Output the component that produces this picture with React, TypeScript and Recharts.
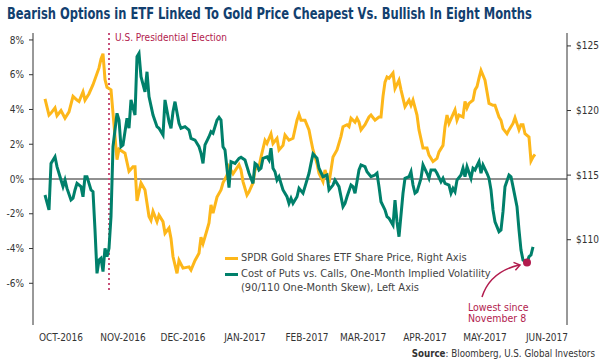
import { LineChart, Line, XAxis, YAxis, ReferenceLine, ReferenceDot, Legend } from 'recharts';

const FONT = "'Liberation Sans Narrow', 'DejaVu Sans Condensed', Roboto, sans-serif";
const GOLD = '#FDB71A';
const GREEN = '#00806B';
const RED = '#B21C4E';
const INK = '#333333';

// x values are days since 1 Oct 2016
const goldDays = [6, 8, 9, 11, 12, 14, 16, 18, 20, 22, 23, 25, 26, 28, 30, 33, 34, 35, 36, 37, 39, 40, 42, 43, 46, 48, 50, 51, 52, 54, 56, 58, 59, 60, 62, 63, 65, 66, 68, 69, 70, 72, 73, 75, 78, 79, 81, 83, 84, 85, 87, 88, 89, 90, 92, 94, 95, 97, 98, 100, 103, 104, 105, 107, 108, 110, 111, 113, 114, 116, 117, 119, 120, 122, 123, 125, 126, 128, 130, 132, 133, 134, 136, 138, 139, 140, 142, 143, 145, 146, 148, 150, 152, 154, 155, 157, 158, 159, 161, 162, 163, 164, 166, 168, 169, 171, 173, 174, 175, 176, 177, 178, 180, 181, 183, 184, 186, 188, 189, 190, 192, 193, 195, 197, 198, 200, 202, 203, 205, 206, 207, 208, 210, 211, 212, 213, 215, 216, 217, 218, 220, 221, 222, 223, 224, 226, 227, 228, 230, 231, 233, 234, 235, 237, 238, 240, 241, 243, 244, 245, 246, 248, 249, 250, 251];
const goldPrice = [120.9, 119.65, 119.8, 120.2, 119.6, 120.0, 119.4, 119.9, 121.1, 120.8, 120.7, 121.45, 120.8, 121.3, 122.0, 123.3, 124.0, 124.4, 122.4, 121.8, 121.6, 119.8, 116.2, 117.0, 116.7, 115.3, 115.65, 115.65, 113.0, 114.4, 113.85, 111.8, 111.5, 112.2, 111.4, 111.9, 111.4, 110.5, 110.9, 110.1, 108.7, 107.4, 108.4, 107.8, 107.9, 107.65, 108.4, 108.95, 110.2, 109.7, 110.75, 111.3, 112.7, 112.05, 113.3, 113.85, 114.4, 115.0, 115.65, 115.1, 115.8, 115.4, 114.5, 113.45, 113.7, 114.4, 115.4, 115.65, 116.4, 117.7, 117.45, 118.2, 117.45, 117.85, 116.95, 117.3, 118.1, 117.7, 117.85, 119.25, 119.7, 119.25, 119.25, 118.5, 117.7, 116.95, 115.9, 115.15, 114.5, 115.4, 114.4, 116.4, 116.95, 118.0, 118.75, 118.9, 118.75, 119.4, 119.1, 119.4, 119.1, 118.5, 118.9, 119.5, 119.65, 119.25, 119.5, 119.5, 121.1, 122.2, 122.6, 122.5, 122.9, 121.7, 122.35, 121.6, 120.3, 120.8, 120.4, 120.8, 119.65, 118.5, 117.1, 117.1, 116.55, 116.05, 116.3, 116.8, 117.3, 118.75, 119.65, 119.0, 119.7, 120.05, 119.25, 119.65, 119.5, 120.7, 120.2, 120.55, 120.8, 121.6, 121.85, 122.5, 123.1, 122.35, 121.45, 120.55, 120.4, 120.4, 119.5, 119.25, 118.6, 118.2, 118.5, 119.0, 119.45, 118.5, 118.9, 118.9, 118.2, 117.95, 116.1, 116.4, 116.6];

const skewDays = [6, 8, 9, 11, 12, 14, 15, 16, 17, 19, 20, 21, 22, 24, 25, 26, 27, 29, 30, 31, 32, 33, 34, 35, 36, 37, 38, 39, 40, 42, 43, 44, 45, 47, 48, 49, 51, 52, 53, 54, 56, 57, 58, 60, 62, 63, 65, 66, 68, 69, 70, 71, 73, 74, 76, 78, 79, 81, 83, 84, 85, 86, 88, 89, 90, 92, 93, 94, 95, 96, 98, 99, 101, 103, 104, 106, 107, 108, 110, 111, 112, 113, 114, 115, 117, 118, 119, 120, 121, 122, 123, 124, 125, 127, 128, 129, 130, 132, 133, 135, 136, 138, 139, 140, 142, 143, 145, 147, 148, 150, 151, 153, 155, 156, 157, 159, 160, 161, 163, 164, 166, 167, 169, 171, 172, 173, 174, 176, 177, 178, 180, 181, 182, 183, 185, 186, 188, 189, 190, 191, 192, 194, 195, 197, 198, 199, 201, 202, 204, 205, 206, 208, 209, 210, 211, 212, 214, 215, 216, 217, 219, 220, 221, 223, 224, 225, 227, 228, 229, 230, 231, 233, 234, 235, 236, 238, 239, 240, 242, 243, 244, 245, 247, 248, 249, 250];
const skewValue = [-0.92, -1.78, 0.9, 1.28, 0.71, -0.06, -0.44, -0.06, -0.54, -1.21, -1.11, -0.63, -0.25, -0.44, -1.02, 0.13, 0.13, -0.63, -0.73, -2.93, -5.43, -4.66, -4.56, -5.33, -3.99, -4.47, -3.99, -2.17, 1.86, 3.78, 3.39, 1.86, 1.96, 3.49, 2.92, 4.55, 3.68, 7.04, 7.23, 5.89, 5.02, 6.17, 4.74, 3.68, 3.01, 2.92, 2.53, 4.55, 3.3, 2.92, 3.87, 4.45, 3.2, 2.92, 3.01, 2.82, 2.34, 2.24, 1.86, 1.48, 0.9, 1.96, 2.43, 2.72, 2.63, 3.39, 3.55, 3.39, 1.86, 1.67, -0.5, 1.0, 0.9, 1.19, 1.25, 1.09, 0.71, 0.33, -0.25, 0.9, 0.81, 0.52, 0.62, 1.19, 1.28, 1.09, 1.77, 0.62, 0.42, -0.06, 0.13, -0.25, -0.63, -1.02, -1.4, -1.11, -1.4, -1.02, -0.54, -0.82, -0.44, 0.33, 0.9, 1.44, 1.19, 0.62, 0.13, 0.23, -0.63, -0.35, -0.06, -0.44, -1.59, -1.4, -1.02, -0.35, -0.44, -0.82, 0.52, 0.81, 0.71, 0.42, 0.13, 0.23, 0.33, -0.44, -1.31, -1.78, -2.17, -2.26, -2.65, -1.21, -2.46, -3.32, -0.82, 0.04, 0.13, 0.42, -0.35, -0.82, -0.73, 0.04, 0.81, 0.33, 0.04, 0.52, 0.52, 0.33, -0.16, 0.04, -0.25, -0.35, -0.82, -0.54, -0.73, -0.06, 0.23, 0.62, 0.13, 0.71, 0.04, 0.62, 0.52, 1.0, 0.33, 0.81, 0.33, 0.04, -0.63, -1.78, -2.46, -3.03, -2.93, -1.88, -0.44, 0.23, 0.13, -0.44, -1.59, -2.93, -4.09, -4.66, -4.8, -4.47, -4.37, -3.9];

const monthTicks = [14, 45, 75, 106, 137, 165, 196, 226, 257];
const monthLabels = ['OCT-2016', 'NOV-2016', 'DEC-2016', 'JAN-2017', 'FEB-2017', 'MAR-2017', 'APR-2017', 'MAY-2017', 'JUN-2017'];
const leftTicks = [-6, -4, -2, 0, 2, 4, 6, 8];
const rightTicks = [110, 115, 120, 125];
const electionDay = 38;
const lowDay = 247;
const lowValue = -4.8;

const rows = [
  ...goldDays.map((t, i) => ({ t, gold: goldPrice[i] })),
  ...skewDays.map((t, i) => ({ t, skew: skewValue[i] })),
].sort((a, b) => a.t - b.t);

const legendItems = [
  { color: GOLD, lines: ['SPDR Gold Shares ETF Share Price, Right Axis'] },
  { color: GREEN, lines: ['Cost of Puts vs. Calls, One-Month Implied Volatility', '(90/110 One-Month Skew), Left Axis'] },
];

function LegendBox() {
  return (
    <div style={{ fontFamily: FONT, fontSize: 11, color: '#444', lineHeight: '14px', whiteSpace: 'nowrap' }}>
      {legendItems.map((it) => (
        <div key={it.color} style={{ display: 'flex', alignItems: 'flex-start', marginBottom: 2 }}>
          <span style={{ display: 'inline-block', width: 13, height: 3, background: it.color, marginTop: 6, marginRight: 3 }} />
          <div>
            {it.lines.map((l) => (
              <div key={l}>{l}</div>
            ))}
          </div>
        </div>
      ))}
    </div>
  );
}

const tickStyle = { fontSize: 10, fill: INK, fontFamily: FONT };

export default function App() {
  return (
    <div style={{ position: 'absolute', left: 0, top: 0, width: 600, height: 362, background: '#fff' }}>
      <LineChart width={600} height={362} data={rows} margin={{ top: 33, right: 0, bottom: 0, left: 0 }}>
        <XAxis
          dataKey="t"
          type="number"
          domain={[0, 267]}
          ticks={monthTicks}
          interval={0}
          tickFormatter={(v) => monthLabels[monthTicks.indexOf(v)]}
          axisLine={false}
          tickLine={false}
          tickSize={0}
          tickMargin={9}
          height={37}
          tick={tickStyle}
          allowDataOverflow
        />
        <YAxis
          yAxisId="left"
          orientation="left"
          width={33}
          domain={[-8.4, 8.4]}
          ticks={leftTicks}
          tickFormatter={(v) => `${v}%`}
          axisLine={{ stroke: INK }}
          tickLine={{ stroke: INK }}
          tickSize={4}
          tickMargin={5}
          tick={tickStyle}
          allowDataOverflow
        />
        <YAxis
          yAxisId="right"
          orientation="right"
          width={33}
          domain={[103.4, 126]}
          ticks={rightTicks}
          tickFormatter={(v) => `$${v}`}
          axisLine={{ stroke: INK }}
          tickLine={{ stroke: INK }}
          tickSize={4}
          tickMargin={5}
          tick={tickStyle}
          allowDataOverflow
        />
        <ReferenceLine yAxisId="left" y={0} stroke="#222" strokeWidth={1} />
        <ReferenceLine
          yAxisId="left"
          segment={[{ x: electionDay, y: 8.4 }, { x: electionDay, y: -6.5 }]}
          stroke="#C8507A"
          strokeWidth={2}
          strokeDasharray="2 3"
        />
        <Line yAxisId="right" dataKey="gold" stroke={GOLD} strokeWidth={3} dot={false} connectNulls isAnimationActive={false} />
        <Line yAxisId="left" dataKey="skew" stroke={GREEN} strokeWidth={3} dot={false} connectNulls isAnimationActive={false} />
        <ReferenceDot yAxisId="left" x={lowDay} y={lowValue} r={4} fill={RED} stroke="none" />
        <Legend
          layout="vertical"
          align="center"
          verticalAlign="middle"
          content={() => <LegendBox />}
          wrapperStyle={{ position: 'absolute', left: 225, top: 251, width: 330 }}
        />
      </LineChart>
      <svg width={600} height={362} style={{ position: 'absolute', left: 0, top: 0, pointerEvents: 'none' }}>
        <text
          x={7 / 0.8}
          y={19}
          transform="scale(0.8 1)"
          fontFamily={FONT}
          fontSize={16}
          fontWeight="bold"
          fill="#12406F"
        >
          Bearish Options in ETF Linked To Gold Price Cheapest Vs. Bullish In Eight Months
        </text>
        <text x={115} y={41} fontFamily={FONT} fontSize={10} fill={RED}>
          U.S. Presidential Election
        </text>
        <text x={468} y={310.5} fontFamily={FONT} fontSize={10.5} fill={RED}>
          Lowest since
        </text>
        <text x={468} y={321.5} fontFamily={FONT} fontSize={10.5} fill={RED}>
          November 8
        </text>
        <path d="M482,297 Q490,272 519,265" fill="none" stroke={RED} strokeWidth={1.5} />
        <polyline points="513.5,262.4 520,265 515.4,270.2" fill="none" stroke={RED} strokeWidth={1.5} />
        <text x={595} y={357} textAnchor="end" fontFamily={FONT} fontSize={9.7} fill={INK}>
          <tspan fontWeight="bold">Source</tspan>: Bloomberg, U.S. Global Investors
        </text>
      </svg>
    </div>
  );
}
